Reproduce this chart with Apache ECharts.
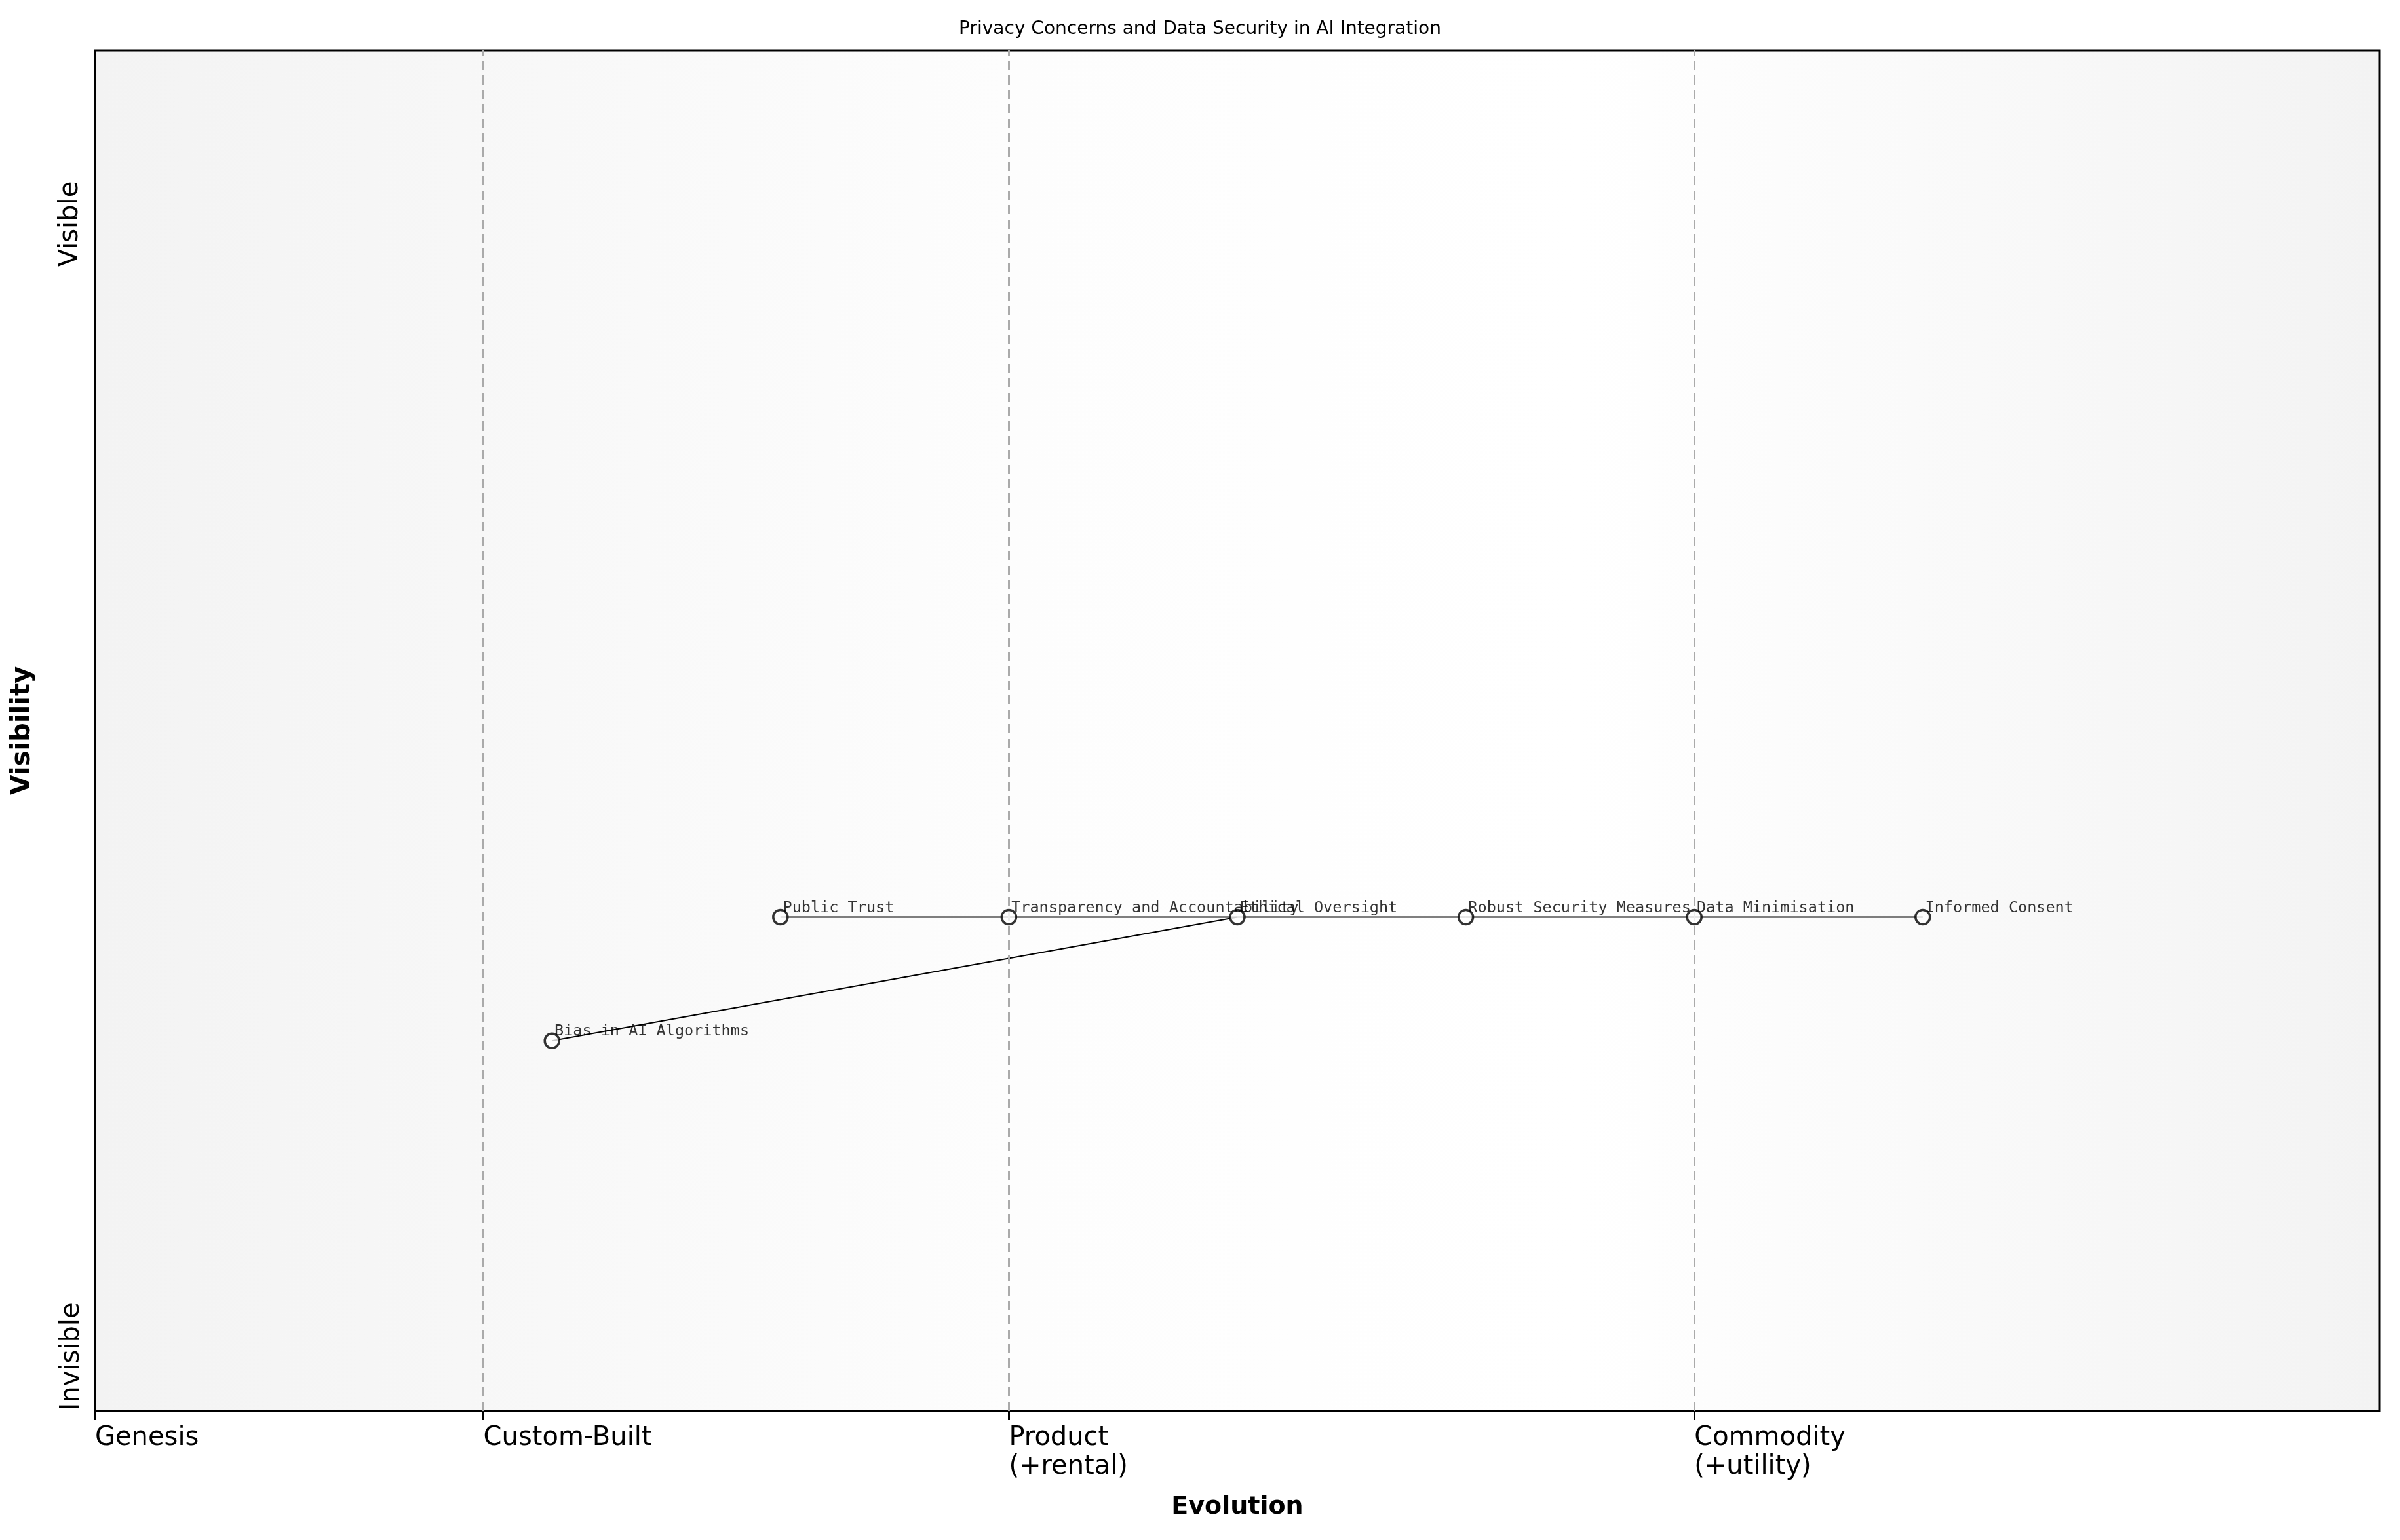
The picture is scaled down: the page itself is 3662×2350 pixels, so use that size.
<!DOCTYPE html>
<html>
<head>
<meta charset="utf-8">
<title>Privacy Concerns and Data Security in AI Integration</title>
<script src="https://cdn.jsdelivr.net/npm/echarts@6/dist/echarts.min.js"></script>
<style>
    html, body {margin:0;padding:0;background:#fff;}
    #main {width:3662px;height:2350px;}
</style>
</head>
<body>
<div id="main"></div>
<script>
    // components on the map
    const names = ['Bias in AI Algorithms', 'Public Trust', 'Transparency and Accountability', 'Ethical Oversight', 'Robust Security Measures', 'Data Minimisation', 'Informed Consent'];
    const evolution = [0.20, 0.30, 0.40, 0.50, 0.60, 0.70, 0.80];
    const visibility = [0.272, 0.363, 0.363, 0.363, 0.363, 0.363, 0.363];
    // links as index pairs
    const links = [[0, 3], [1, 2], [2, 3], [3, 4], [4, 5], [5, 6]];
    // evolution stages
    const stageNames = ['Genesis', 'Custom-Built', 'Product\n(+rental)', 'Commodity\n(+utility)'];
    const stagePos = [0, 0.17, 0.40, 0.70];

    const chart = echarts.init(document.getElementById('main'));
    const grid = {left: 145, right: 31, top: 77, bottom: 197};

    const series = links.map(function (l) {
        return {
            type: 'line', symbol: 'none', silent: true, z: 2,
            lineStyle: {color: '#000', width: 2},
            data: [[evolution[l[0]], visibility[l[0]]], [evolution[l[1]], visibility[l[1]]]]
        };
    });
    series.push({
        type: 'scatter', z: 5,
        symbol: 'circle', symbolSize: 22,
        itemStyle: {color: '#fff', borderColor: '#000', borderWidth: 3.5},
        label: {
            show: true, position: 'right', distance: 0, offset: [-9, -14],
            formatter: function (p) { return names[p.dataIndex]; },
            fontFamily: 'DejaVu Sans Mono', fontSize: 23.5, color: '#000'
        },
        data: evolution.map(function (x, i) { return [x, visibility[i]]; }),
        markLine: {
            silent: true, symbol: 'none', label: {show: false},
            lineStyle: {color: '#aaa', type: [14, 8], width: 3},
            data: stagePos.slice(1).map(function (v) { return {xAxis: v}; })
        }
    });

    chart.setOption({
        backgroundColor: '#fff',
        animation: false,
        title: {
            text: 'Privacy Concerns and Data Security in AI Integration',
            left: 'center', top: 26,
            textStyle: {fontFamily: 'DejaVu Sans', fontSize: 28, fontWeight: 'normal', color: '#000'}
        },
        grid: Object.assign({
            show: true, borderColor: '#000', borderWidth: 3,
            backgroundColor: new echarts.graphic.LinearGradient(0, 0, 1, 0, [
                {offset: 0, color: '#f3f3f3'},
                {offset: 0.4, color: '#fdfdfd'},
                {offset: 0.65, color: '#ffffff'},
                {offset: 1, color: '#f3f3f3'}
            ])
        }, grid),
        xAxis: {
            type: 'value', min: 0, max: 1,
            name: 'Evolution', nameLocation: 'middle', nameGap: 128,
            nameTextStyle: {fontFamily: 'DejaVu Sans', fontSize: 38, fontWeight: 'bold', color: '#000'},
            axisLine: {show: false},
            splitLine: {show: false},
            axisTick: {show: true, inside: false, length: 14, customValues: stagePos, lineStyle: {color: '#000', width: 3}},
            axisLabel: {
                customValues: stagePos, align: 'left', margin: 20, lineHeight: 44,
                fontFamily: 'DejaVu Sans', fontSize: 40, color: '#000',
                formatter: function (v) { return stageNames[stagePos.indexOf(v)]; }
            }
        },
        yAxis: {
            type: 'value', min: 0, max: 1,
            name: 'Visibility', nameLocation: 'middle', nameGap: 90,
            nameTextStyle: {fontFamily: 'DejaVu Sans', fontSize: 40, fontWeight: 'bold', color: '#000'},
            axisLine: {show: false}, axisTick: {show: false},
            axisLabel: {show: false}, splitLine: {show: false}
        },
        graphic: [
            {type: 'text', x: 108, y: 342, rotation: Math.PI / 2, style: {text: 'Visible', font: '40px "DejaVu Sans"', fill: '#000', textAlign: 'center', textVerticalAlign: 'middle'}},
            {type: 'text', x: 110, y: 2070, rotation: Math.PI / 2, style: {text: 'Invisible', font: '40px "DejaVu Sans"', fill: '#000', textAlign: 'center', textVerticalAlign: 'middle'}}
        ],
        series: series
    });
</script>
</body>
</html>
